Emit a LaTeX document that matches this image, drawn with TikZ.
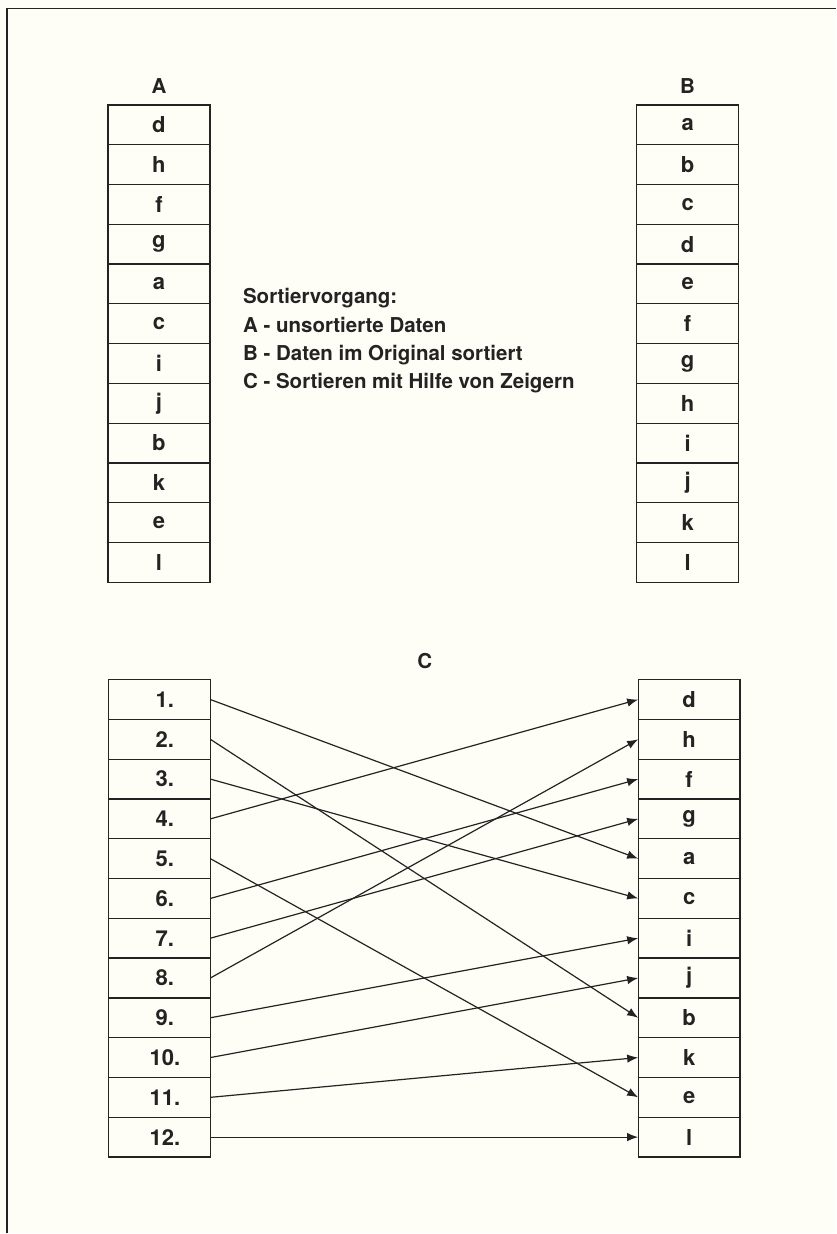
\documentclass[tikz,border=0pt]{standalone}
\usepackage{fontspec}
\setmainfont{TeX Gyre Heros}
\usetikzlibrary{arrows.meta,positioning}

\definecolor{paper}{RGB}{254,254,247}
\definecolor{ink}{RGB}{35,35,35}

\tikzset{
  cell/.style={draw=ink, line width=1.3pt, minimum width=102pt, minimum height=39.8pt,
    inner sep=0pt, outer sep=0pt, font=\fontsize{22}{26}\selectfont\bfseries},
  title/.style={inner sep=0pt},
  pointer/.style={-{Latex[length=11pt,width=8.5pt]}, line width=1.2pt, draw=ink},
}

\begin{document}
\begin{tikzpicture}[x=1pt, y=-1pt, text=ink,
    font=\fontsize{20.5}{28.3}\selectfont\bfseries]
    \fill[paper] (0,0) rectangle (836,1234);
    \draw[ink, line width=1.3pt] (7,1234) -- (7,8.5) -- (836,8.5);

    % A: unsorted, B: sorted
    \foreach \c [count=\i] in {d,h,f,g,a,c,i,j,b,k,e,l}
        \node[cell] (A\i) at (159, {105+39.8*(\i-0.5)}) {\c};
    \foreach \c [count=\i] in {a,b,c,d,e,f,g,h,i,j,k,l}
        \node[cell] (B\i) at (688, {105+39.8*(\i-0.5)}) {\c};
    \node[title, above=11pt of A1] (labA) {A};
    \node[title, above=11pt of B1] (labB) {B};

    \node[anchor=base west, align=left, inner sep=0pt] (legend) at (243,389)
        {Sortiervorgang:\\
         A - unsortierte Daten\\
         B - Daten im Original sortiert\\
         C - Sortieren mit Hilfe von Zeigern};

    % C: pointers into the unsorted data
    \node[title] (labC) at (425,661) {C};
    \foreach \i in {1,...,12}
        \node[cell] (P\i) at (159.5, {680+39.8*(\i-0.5)}) {\hspace*{11pt}\i.};
    \foreach \c [count=\i] in {d,h,f,g,a,c,i,j,b,k,e,l}
        \node[cell] (Q\i) at (689.5, {680+39.8*(\i-0.5)}) {\c};

    \foreach \s/\t in {1/5,2/9,3/6,4/1,5/11,6/3,7/4,8/2,9/7,10/8,11/10,12/12}
        \draw[pointer] (P\s.east) -- (Q\t.west);
\end{tikzpicture}
\end{document}
